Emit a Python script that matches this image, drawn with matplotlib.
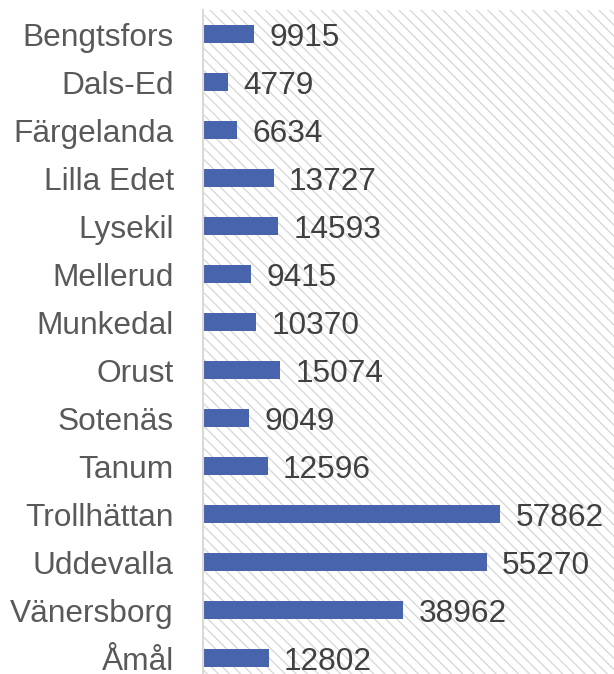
import matplotlib
matplotlib.use("Agg")
import matplotlib.pyplot as plt
import numpy as np

municipalities = ["Bengtsfors", "Dals-Ed", "Färgelanda", "Lilla Edet", "Lysekil",
                  "Mellerud", "Munkedal", "Orust", "Sotenäs", "Tanum",
                  "Trollhättan", "Uddevalla", "Vänersborg", "Åmål"]
population = [9915, 4779, 6634, 13727, 14593, 9415, 10370, 15074, 9049, 12596,
              57862, 55270, 38962, 12802]

plt.rcParams["font.family"] = ["Liberation Sans", "DejaVu Sans"]
plt.rcParams["hatch.linewidth"] = 1.0
plt.rcParams["hatch.color"] = "#d9d9d9"

FS = 22.8

fig = plt.figure(figsize=(6.14, 6.74), dpi=100)
ax = fig.add_axes([203 / 614, -8 / 674, 1 - 203 / 614, 672 / 674])

# diagonal hatched background
ax.patch.set_facecolor("white")
ax.patch.set_hatch("\\\\\\")
ax.patch.set_edgecolor("#d9d9d9")
ax.patch.set_linewidth(0)

y = np.arange(len(municipalities))
bars = ax.barh(y, population, height=0.39, color="#4864ad", zorder=2)
for yi, v in zip(y, population):
    ax.annotate(str(v), xy=(v, yi), xytext=(11, 0), textcoords="offset points",
                ha="left", va="center_baseline", fontsize=FS, color="#404040")

ax.set_xlim(0, 80000)
ax.set_ylim(len(municipalities) - 0.5, -0.5)
ax.set_yticks(y)
ax.set_yticklabels(municipalities, fontsize=FS, color="#595959")
ax.set_xticks([])
ax.tick_params(axis="y", length=0, pad=21)

for side in ["top", "right", "bottom"]:
    ax.spines[side].set_visible(False)
ax.spines["left"].set_color("#d9d9d9")
ax.spines["left"].set_linewidth(1.5)
ax.spines["left"].set_zorder(3)

fig.savefig("out.png", dpi=100)
